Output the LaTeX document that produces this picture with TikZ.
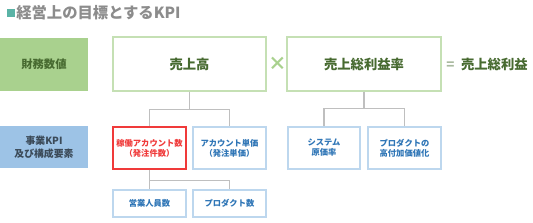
\documentclass[tikz,border=0pt]{standalone}
\usepackage{fontspec}
\setmainfont{Noto Sans CJK JP}
\usetikzlibrary{positioning}

\definecolor{titlegray}{HTML}{8C8C8C}
\definecolor{titleteal}{HTML}{5AB3A6}
\definecolor{greenfill}{HTML}{A9D18E}
\definecolor{greenline}{HTML}{C5E0B4}
\definecolor{greentext}{HTML}{476A30}
\definecolor{bluefill}{HTML}{9DC3E6}
\definecolor{blueline}{HTML}{BDD7EE}
\definecolor{bluetext}{HTML}{2E75B6}
\definecolor{darktext}{HTML}{3B4A58}
\definecolor{redline}{HTML}{F03A3A}
\definecolor{treegray}{HTML}{BFBFBF}

\begin{document}
\begin{tikzpicture}[
  x=0.75pt, y=-0.75pt,
  % Node Styles
  labelbox/.style={rectangle, inner sep=0pt, minimum width=88*0.75pt, align=center, font=\bfseries},
  goalbox/.style={rectangle, draw=greenline, line width=1pt, fill=white, minimum height=54*0.75pt, inner sep=0pt, text=greentext, font=\bfseries\fontsize{10}{12}\selectfont},
  kpibox/.style={rectangle, draw=blueline, line width=1pt, fill=white, minimum width=73*0.75pt, minimum height=42*0.75pt, inner sep=0pt, align=center, text=bluetext, font=\bfseries\fontsize{6.2}{7.5}\selectfont},
  % Line Styles
  treeline/.style={draw=treegray, line width=0.9pt},
]
\useasboundingbox (0,0) rectangle (533,222);

% Title
\node[rectangle, fill=titleteal, minimum size=8*0.75pt, inner sep=0pt] (mark) at (11,12.5) {};
\node[anchor=west, inner sep=0pt, text=titlegray, font=\bfseries\fontsize{11.5}{13}\selectfont] (title) at (16,12.5) {経営上の目標とするKPI};

% Row labels
\node[labelbox, fill=greenfill, minimum height=53*0.75pt, text=greentext, font=\bfseries\fontsize{8.5}{10}\selectfont] (finance) at (44,64.5) {財務数値};
\node[labelbox, fill=bluefill, minimum height=42*0.75pt, text=darktext, font=\bfseries\fontsize{7.4}{9.75}\selectfont] (kpilabel) at (44,147) {事業KPI\\及び構成要素};

% Financial goals
\node[goalbox, minimum width=153*0.75pt] (sales) at (189.5,64) {売上高};
\node[text=greenfill, font=\bfseries\fontsize{14}{14}\selectfont, inner sep=0pt] (times) at (277.5,64) {×};
\node[goalbox, minimum width=154*0.75pt] (margin) at (364,64) {売上総利益率};
\node[anchor=west, inner sep=0pt, text=greentext, font=\bfseries\fontsize{10}{12}\selectfont] (result) at (446,64.5) {{\color{greenline!60!gray}=}\hspace{5pt}売上総利益};

% KPI boxes
\node[kpibox, draw=redline, line width=1.2pt, text=redline] (accounts) at (149.5,148) {稼働アカウント数\\（発注件数）};
\node[kpibox] (unitprice) at (229.5,148) {アカウント単価\\（発注単価）};
\node[kpibox, minimum height=27*0.75pt] (staff) at (149.5,203.5) {営業人員数};
\node[kpibox, minimum height=27*0.75pt] (products) at (229.5,203.5) {プロダクト数};
\node[kpibox, minimum width=72*0.75pt] (costrate) at (324,148) {システム\\原価率};
\node[kpibox] (addvalue) at (404.5,148) {プロダクトの\\高付加価値化};

% Tree lines
\draw[treeline] (sales.south) -- ++(0,18) -| (accounts.north);
\draw[treeline] (sales.south) -- ++(0,18) -| (unitprice.north);
\draw[treeline] (accounts.south) -- ++(0,11) -| (staff.north);
\draw[treeline] (accounts.south) -- ++(0,11) -| (products.north);
\draw[treeline] (margin.south) -- ++(0,17) -| (costrate.north);
\draw[treeline] (margin.south) -- ++(0,17) -| (addvalue.north);

\end{tikzpicture}
\end{document}
